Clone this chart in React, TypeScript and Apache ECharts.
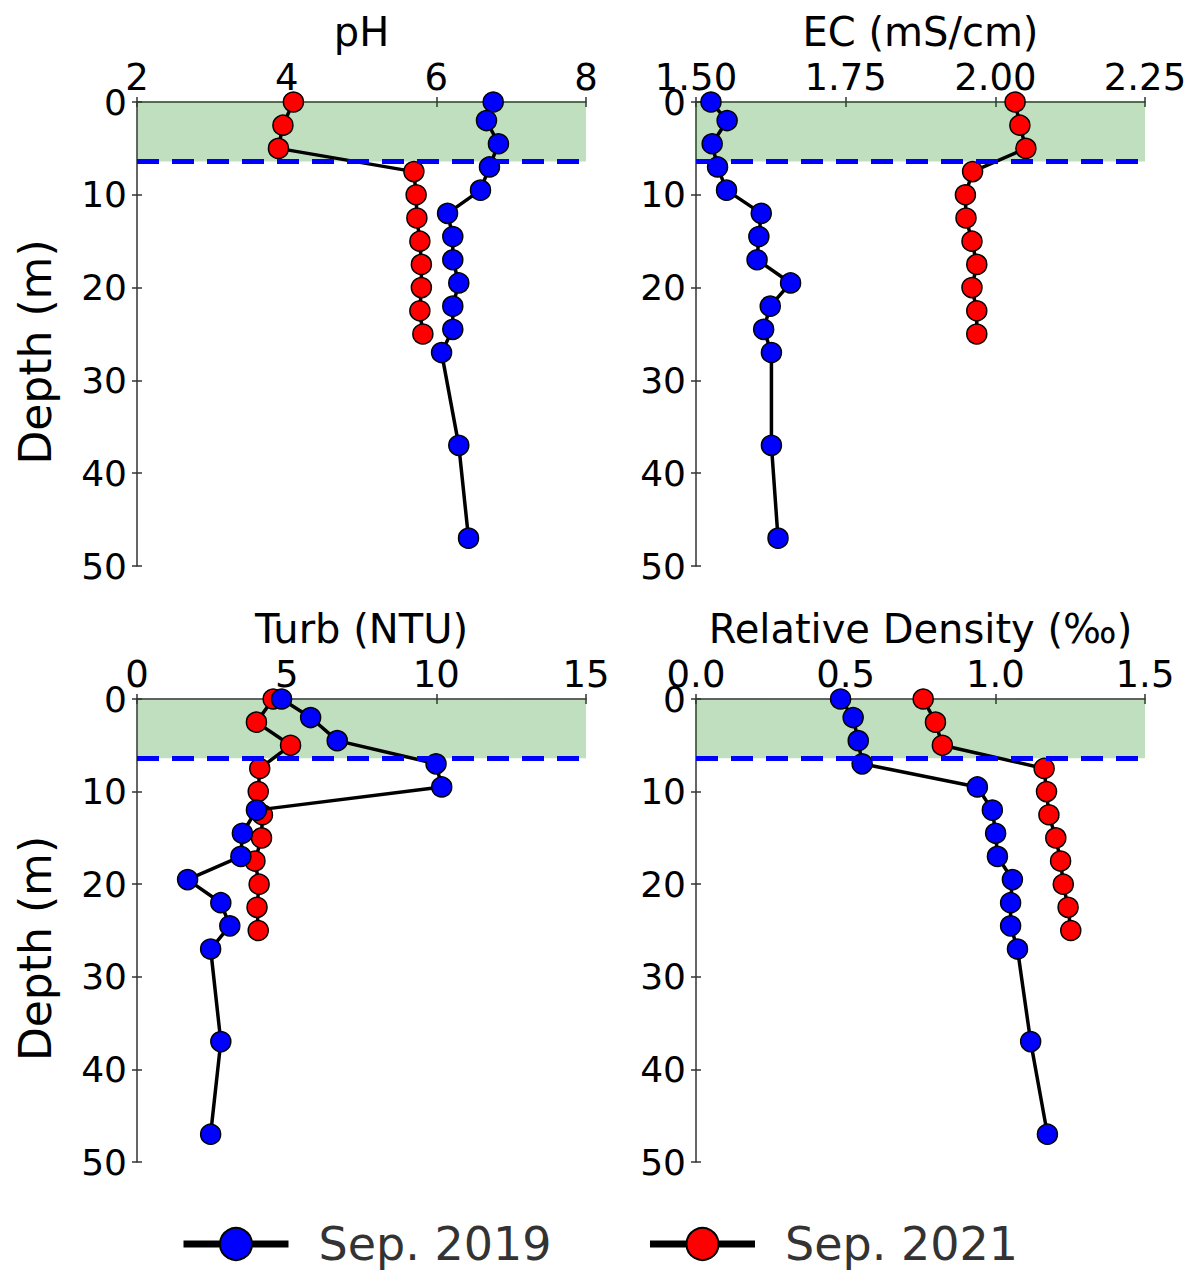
import React, { useEffect, useRef } from "react";
import * as echarts from "echarts";

// Depths (m)
const depth2019 = [0, 2, 4.5, 7, 9.5, 12, 14.5, 17, 19.5, 22, 24.5, 27, 37, 47];
const depth2021 = [0, 2.5, 5, 7.5, 10, 12.5, 15, 17.5, 20, 22.5, 25];

// pH
const ph2019 = [6.76, 6.67, 6.83, 6.71, 6.59, 6.15, 6.22, 6.22, 6.3, 6.22, 6.22, 6.07, 6.3, 6.43];
const ph2021 = [4.09, 3.95, 3.89, 5.7, 5.73, 5.74, 5.78, 5.8, 5.8, 5.78, 5.82];

// EC (mS/cm)
const ec2019 = [1.525, 1.552, 1.527, 1.536, 1.551, 1.609, 1.605, 1.602, 1.658, 1.624, 1.613, 1.626, 1.626, 1.637];
const ec2021 = [2.033, 2.041, 2.051, 1.962, 1.95, 1.951, 1.961, 1.969, 1.961, 1.969, 1.969];

// Turbidity (NTU)
const turb2019 = [4.83, 5.8, 6.69, 9.99, 10.18, 3.99, 3.52, 3.47, 1.69, 2.8, 3.1, 2.46, 2.8, 2.46];
const turb2021 = [4.55, 3.99, 5.13, 4.1, 4.05, 4.19, 4.16, 3.94, 4.08, 4.01, 4.05];

// Relative density (‰)
const rho2019 = [0.483, 0.525, 0.542, 0.555, 0.94, 0.99, 1.001, 1.007, 1.057, 1.051, 1.051, 1.074, 1.118, 1.174];
const rho2021 = [0.759, 0.8, 0.823, 1.163, 1.171, 1.179, 1.202, 1.218, 1.227, 1.243, 1.252];

const layerDepth = 6.4;
const depthTicks = { min: 0, max: 50, interval: 10 };
const seriesNames = ["Sep. 2019", "Sep. 2021"];
const depthLabel = "Depth (m)";

const panels = [
  { title: "pH", min: 2, max: 8, interval: 2, decimals: 0, a: ph2019, b: ph2021, yName: true },
  { title: "EC (mS/cm)", min: 1.5, max: 2.25, interval: 0.25, decimals: 2, a: ec2019, b: ec2021, yName: false },
  { title: "Turb (NTU)", min: 0, max: 15, interval: 5, decimals: 0, a: turb2019, b: turb2021, yName: true },
  { title: "Relative Density (‰)", min: 0, max: 1.5, interval: 0.5, decimals: 1, a: rho2019, b: rho2021, yName: false },
];

const FONT = "DejaVu Sans";
const AXIS_COLOR = "#333";

const grids = [
  { left: 137, top: 102, width: 449, height: 464 },
  { left: 696, top: 102, width: 449, height: 464 },
  { left: 137, top: 699, width: 449, height: 463 },
  { left: 696, top: 699, width: 449, height: 463 },
];

export default function App() {
  const ref = useRef<HTMLDivElement>(null);

  useEffect(() => {
    if (!ref.current) return;
    const chart = echarts.init(ref.current, undefined, { renderer: "svg" });

    const xAxes: any[] = [];
    const yAxes: any[] = [];
    const series: any[] = [];

    panels.forEach((p, i) => {
      xAxes.push({
        type: "value",
        gridIndex: i,
        position: "top",
        min: p.min,
        max: p.max,
        interval: p.interval,
        name: p.title,
        nameLocation: "middle",
        nameGap: 50,
        nameTextStyle: { fontSize: 40, color: "#000", fontFamily: FONT },
        axisLine: { show: true, onZero: false, lineStyle: { color: AXIS_COLOR, width: 1.5 } },
        axisTick: { show: true, inside: false, length: 5, lineStyle: { color: AXIS_COLOR, width: 1.5 } },
        axisLabel: {
          fontSize: 37,
          color: "#000",
          fontFamily: FONT,
          margin: 6,
          formatter: (v: number) => v.toFixed(p.decimals),
        },
        splitLine: { show: false },
      });
      xAxes.push({
        type: "value",
        gridIndex: i,
        position: "top",
        min: p.min,
        max: p.max,
        interval: p.interval,
        axisLine: { show: false, onZero: false },
        axisTick: { show: true, inside: true, length: 5, lineStyle: { color: AXIS_COLOR, width: 1.5 } },
        axisLabel: { show: false },
        splitLine: { show: false },
      });
      yAxes.push({
        type: "value",
        gridIndex: i,
        position: "left",
        inverse: true,
        min: depthTicks.min,
        max: depthTicks.max,
        interval: depthTicks.interval,
        name: p.yName ? depthLabel : "",
        nameLocation: "middle",
        nameGap: 80,
        nameTextStyle: { fontSize: 44, color: "#000", fontFamily: FONT, padding: [0, 36, 0, 0] },
        axisLine: { show: true, onZero: false, lineStyle: { color: AXIS_COLOR, width: 1.5 } },
        axisTick: { show: true, inside: false, length: 5, lineStyle: { color: AXIS_COLOR, width: 1.5 } },
        axisLabel: { fontSize: 36, color: "#000", fontFamily: FONT, margin: 10 },
        splitLine: { show: false },
      });
      yAxes.push({
        type: "value",
        gridIndex: i,
        position: "left",
        inverse: true,
        min: depthTicks.min,
        max: depthTicks.max,
        interval: depthTicks.interval,
        axisLine: { show: false, onZero: false },
        axisTick: { show: true, inside: true, length: 5, lineStyle: { color: AXIS_COLOR, width: 1.5 } },
        axisLabel: { show: false },
        splitLine: { show: false },
      });

      const xi = i * 2;
      const yi = i * 2;

      series.push({
        name: "zone",
        type: "line",
        xAxisIndex: xi,
        yAxisIndex: yi,
        data: [],
        silent: true,
        z: 1,
        markArea: {
          silent: true,
          itemStyle: { color: "rgba(0,128,0,0.25)" },
          data: [[{ xAxis: p.min, yAxis: 0 }, { xAxis: p.max, yAxis: layerDepth }]],
        },
        markLine: {
          silent: true,
          symbol: ["none", "none"],
          label: { show: false },
          lineStyle: { color: "#0000ff", width: 5, type: [22, 13] },
          data: [{ yAxis: layerDepth }],
        },
      });

      const mk = (name: string, xs: number[], ds: number[], color: string, z: number) => ({
        name,
        type: "line",
        xAxisIndex: xi,
        yAxisIndex: yi,
        data: xs.map((v, k) => [v, ds[k]]),
        symbol: "circle",
        symbolSize: 20,
        showSymbol: true,
        z,
        lineStyle: { color: "#000", width: 3.5 },
        itemStyle: { color, borderColor: "#000", borderWidth: 1.5 },
        emphasis: { disabled: true },
      });
      series.push(mk(seriesNames[1], p.b, depth2021, "#ff0000", 3));
      series.push(mk(seriesNames[0], p.a, depth2019, "#0000ff", 4));
    });

    chart.setOption({
      animation: false,
      backgroundColor: "#fff",
      textStyle: { fontFamily: FONT },
      grid: grids.map((g) => ({ ...g, containLabel: false })),
      xAxis: xAxes,
      yAxis: yAxes,
      legend: {
        data: seriesNames,
        left: 180,
        top: 1221,
        padding: 0,
        itemWidth: 105,
        itemHeight: 40,
        itemGap: 95,
        lineStyle: { width: 7 },
        textStyle: { fontSize: 46, color: "#333", fontFamily: FONT, padding: [0, 0, 0, 25] },
      },
      series,
    });

    return () => chart.dispose();
  }, []);

  return (
    <div
      ref={ref}
      style={{ position: "fixed", left: 0, top: 0, width: 1197, height: 1274, background: "#fff" }}
    />
  );
}
